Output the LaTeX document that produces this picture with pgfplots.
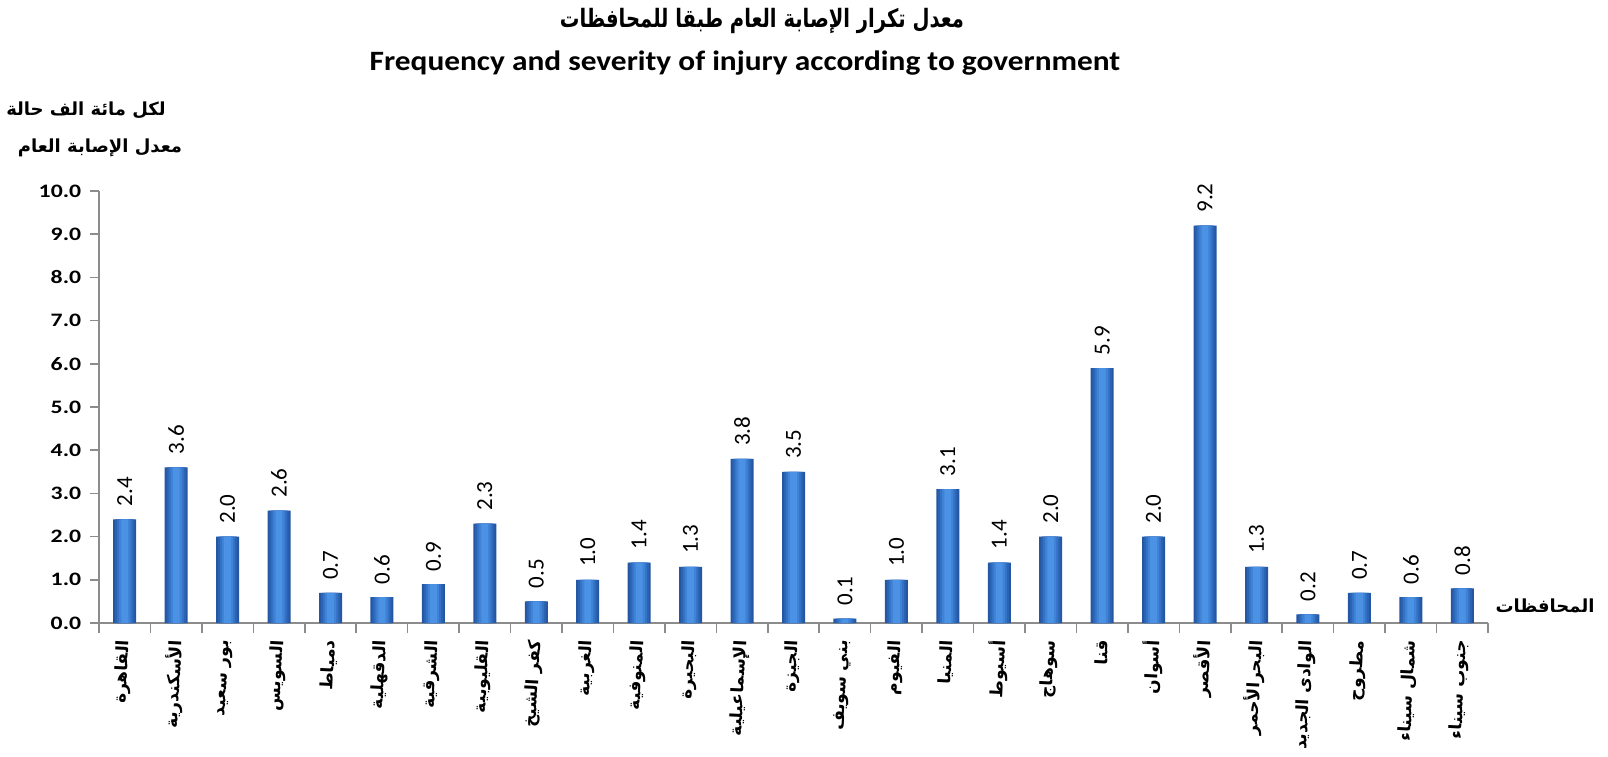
\documentclass[border=0pt]{standalone}
\usepackage{fontspec}
\setmainfont{Carlito}
\newfontfamily\arabicfont[Script=Arabic]{DejaVu Sans}
\TeXXeTstate=1
\usepackage{pgfplots}
\usepackage{pgfplotstable}
\pgfplotsset{compat=1.18}
\definecolor{barA}{HTML}{2456A2}
\definecolor{barB}{HTML}{2B63B3}
\definecolor{barC}{HTML}{3472C5}
\definecolor{barD}{HTML}{3F82D6}
\definecolor{barE}{HTML}{4C92E4}
\definecolor{axisgray}{HTML}{8C8C8C}

% rate per 100,000 cases, one row per governorate
\pgfplotstableread{
x y
0 2.4
1 3.6
2 2.0
3 2.6
4 0.7
5 0.6
6 0.9
7 2.3
8 0.5
9 1.0
10 1.4
11 1.3
12 3.8
13 3.5
14 0.1
15 1.0
16 3.1
17 1.4
18 2.0
19 5.9
20 2.0
21 9.2
22 1.3
23 0.2
24 0.7
25 0.6
26 0.8
}\ratetable

\begin{document}
\begin{tikzpicture}
\useasboundingbox (0,0) rectangle (804pt,378pt);
\begin{axis}[
    at={(49.5pt,66.5pt)}, anchor=south west,
    scale only axis, width=694.5pt, height=216pt,
    xmin=-0.5, xmax=26.5, ymin=0, ymax=10,
    axis x line*=bottom, axis y line*=left,
    axis line style={axisgray, line width=0.75pt, -},
    tick align=outside,
    tick style={axisgray, line width=0.75pt},
    major tick length=4.5pt, minor tick length=5pt,
    /pgf/number format/assume math mode=true,
    ytick={0,1,...,10},
    yticklabel style={font=\bfseries\fontsize{9.5}{10}\selectfont, xscale=1.25,
        /pgf/number format/fixed, /pgf/number format/fixed zerofill,
        /pgf/number format/precision=1},
    xtick={0,1,...,26},
    major x tick style={draw=none},
    minor xtick={-0.5,0.5,...,26.5},
    xticklabels={
        {\arabicfont\bfseries\beginR القاهرة\endR},
        {\arabicfont\bfseries\beginR الأسكندرية\endR},
        {\arabicfont\bfseries\beginR بور سعيد\endR},
        {\arabicfont\bfseries\beginR السويس\endR},
        {\arabicfont\bfseries\beginR دمياط\endR},
        {\arabicfont\bfseries\beginR الدقهلية\endR},
        {\arabicfont\bfseries\beginR الشرقية\endR},
        {\arabicfont\bfseries\beginR القليوبية\endR},
        {\arabicfont\bfseries\beginR كفر الشيخ\endR},
        {\arabicfont\bfseries\beginR الغربية\endR},
        {\arabicfont\bfseries\beginR المنوفية\endR},
        {\arabicfont\bfseries\beginR البحيرة\endR},
        {\arabicfont\bfseries\beginR الإسماعيلية\endR},
        {\arabicfont\bfseries\beginR الجيزة\endR},
        {\arabicfont\bfseries\beginR بني سويف\endR},
        {\arabicfont\bfseries\beginR الفيوم\endR},
        {\arabicfont\bfseries\beginR المنيا\endR},
        {\arabicfont\bfseries\beginR أسيوط\endR},
        {\arabicfont\bfseries\beginR سوهاج\endR},
        {\arabicfont\bfseries\beginR قنا\endR},
        {\arabicfont\bfseries\beginR أسوان\endR},
        {\arabicfont\bfseries\beginR الأقصر\endR},
        {\arabicfont\bfseries\beginR البحرالأحمر\endR},
        {\arabicfont\bfseries\beginR الوادى الجديد\endR},
        {\arabicfont\bfseries\beginR مطروح\endR},
        {\arabicfont\bfseries\beginR شمال سيناء\endR},
        {\arabicfont\bfseries\beginR جنوب سيناء\endR}},
    xticklabel style={font=\fontsize{8.5}{10}\selectfont, yshift=-3pt, rotate=87,
        anchor=east, inner sep=1pt},
    clip=false,
]
% bar body, drawn as narrowing layers to give the rounded look
\addplot[ybar, bar shift=0pt, bar width=11.5pt, draw=none, fill=barA,
    nodes near coords={\pgfmathprintnumber[fixed,fixed zerofill,precision=1]{\pgfplotspointmeta}},
    every node near coord/.append style={font=\fontsize{11.5}{13}\selectfont,
        yshift=3pt, rotate=90, anchor=west, text=black}]
    table {\ratetable};
\addplot[ybar, bar shift=0pt, bar width=9.6pt, draw=none, fill=barB] table {\ratetable};
\addplot[ybar, bar shift=0pt, bar width=7.6pt, draw=none, fill=barC] table {\ratetable};
\addplot[ybar, bar shift=0pt, bar width=5.6pt, draw=none, fill=barD] table {\ratetable};
\addplot[ybar, bar shift=0pt, bar width=3.4pt, draw=none, fill=barE] table {\ratetable};
\end{axis}
\node[font=\arabicfont\bfseries\fontsize{11.5}{13}\selectfont, xscale=0.85, yscale=1.1] at (381pt,367.5pt) {\beginR معدل تكرار الإصابة العام طبقا للمحافظات\endR};
\node[font=\bfseries\fontsize{14}{16}\selectfont, xscale=1.12] at (372.5pt,346.5pt) {Frequency and severity of injury according to government};
\node[font=\arabicfont\bfseries\fontsize{9}{11}\selectfont] at (43pt,323pt) {\beginR لكل مائة الف حالة\endR};
\node[font=\arabicfont\bfseries\fontsize{9}{11}\selectfont] at (50pt,304pt) {\beginR معدل الإصابة العام\endR};
\node[font=\arabicfont\bfseries\fontsize{9}{11}\selectfont] at (772.5pt,75pt) {\beginR المحافظات\endR};
\end{tikzpicture}
\end{document}
